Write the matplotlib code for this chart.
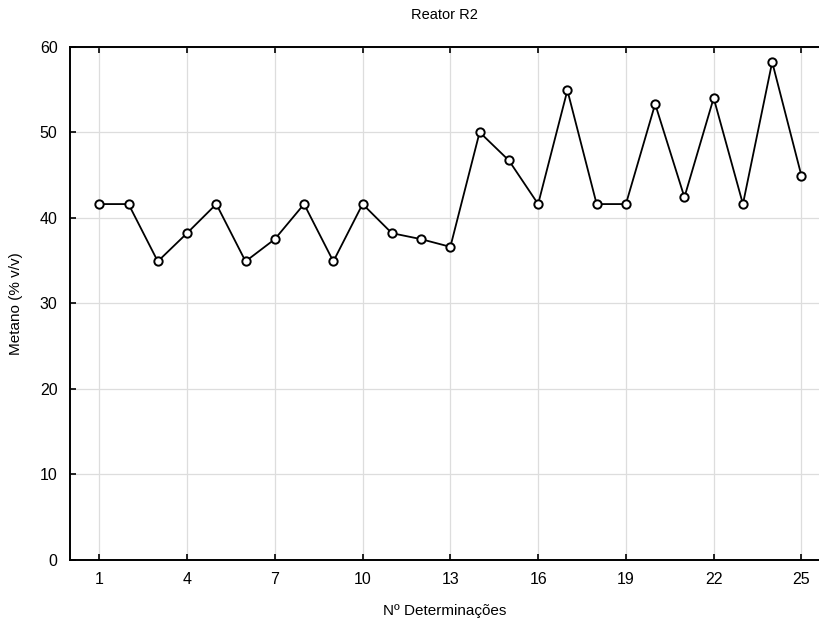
import matplotlib.pyplot as plt

x_vals = list(range(1, 26))
metano = [41.6, 41.6, 34.9, 38.2, 41.6, 34.9, 37.5, 41.6, 34.9, 41.6,
          38.2, 37.5, 36.6, 50.0, 46.7, 41.6, 54.9, 41.6, 41.6, 53.3,
          42.4, 54.0, 41.6, 58.2, 44.9]
x_ticks = [1, 4, 7, 10, 13, 16, 19, 22, 25]
y_ticks = [0, 10, 20, 30, 40, 50, 60]


def main():
    plt.rcParams['font.family'] = ['Liberation Sans', 'DejaVu Sans']
    fig = plt.figure(figsize=(8.19, 6.22), dpi=100)
    ax = fig.add_axes([0.0855, 0.0997, 0.9145, 0.8253])

    ax.plot(x_vals, metano, color='black', linewidth=1.3, marker='o',
            markersize=6, markerfacecolor='white', markeredgecolor='black',
            markeredgewidth=1.4, zorder=3)

    ax.set_xlim(0, 25.6)
    ax.set_ylim(0, 60)
    ax.set_xticks(x_ticks)
    ax.set_yticks(y_ticks)
    ax.grid(True, color='#dddddd', linewidth=0.9)
    ax.set_axisbelow(True)
    ax.tick_params(direction='in', top=True, right=False, length=4,
                   width=1.2, labelsize=11.5, pad=9)
    for s in ['left', 'bottom', 'top']:
        ax.spines[s].set_linewidth(1.4)
    ax.spines['right'].set_visible(False)

    ax.set_title('Reator R2', fontsize=10.5, pad=20)
    ax.set_xlabel('Nº Determinações', fontsize=11, labelpad=12)
    ax.set_ylabel('Metano (% v/v)', fontsize=11, labelpad=12)

    fig.savefig('out.png', dpi=100)


if __name__ == "__main__":
    main()
